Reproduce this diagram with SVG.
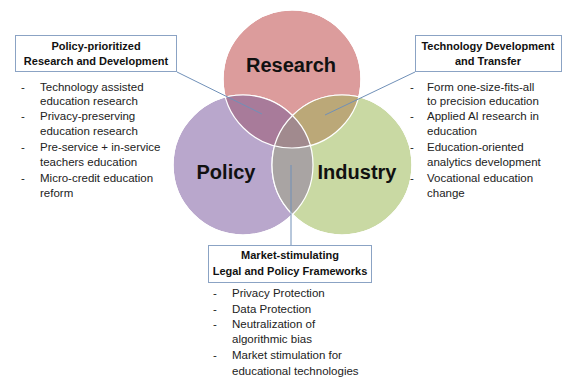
<svg xmlns="http://www.w3.org/2000/svg" width="564" height="379" viewBox="0 0 564 379">
  <style>
    .circle { stroke: #ffffff; stroke-width: 1.2; }
    .lbl { font-family: "Liberation Sans", Arial, sans-serif; font-weight: bold; font-size: 20px; fill: #111111; text-anchor: middle; }
    .box { fill: #ffffff; stroke: #8ba3c4; stroke-width: 1; }
    .title { font-family: "Liberation Sans", Arial, sans-serif; font-weight: bold; font-size: 11px; fill: #111111; text-anchor: middle; }
    .item { font-family: "Liberation Sans", Arial, sans-serif; font-size: 11.5px; fill: #222222; }
    .link { stroke: #7090b8; stroke-width: 1; fill: none; }
  </style>
  <defs>
    <clipPath id="clipR"><circle cx="292" cy="79" r="69"/></clipPath>
    <clipPath id="clipP"><circle cx="243" cy="165" r="70"/></clipPath>
    <clipPath id="clipI"><circle cx="342" cy="165" r="70"/></clipPath>
  </defs>
  <rect width="564" height="379" fill="#ffffff"/>

  <!-- Venn circles -->
  <g id="venn">
    <circle class="circle" cx="292" cy="79" r="69" fill="#dc9c9c"/>
    <circle class="circle" cx="243" cy="165" r="70" fill="#b9a7cc"/>
    <circle class="circle" cx="342" cy="165" r="70" fill="#c9d9a3"/>
    <!-- pairwise overlaps -->
    <g clip-path="url(#clipR)"><circle cx="243" cy="165" r="70" fill="#a87b9a"/></g>
    <g clip-path="url(#clipR)"><circle cx="342" cy="165" r="70" fill="#bba878"/></g>
    <g clip-path="url(#clipP)"><circle cx="342" cy="165" r="70" fill="#a9a4a3"/></g>
    <!-- triple overlap -->
    <g clip-path="url(#clipR)"><g clip-path="url(#clipP)"><circle cx="342" cy="165" r="70" fill="#a18a8e"/></g></g>
    <!-- white outlines on top -->
    <circle cx="292" cy="79" r="69" fill="none" class="circle"/>
    <circle cx="243" cy="165" r="70" fill="none" class="circle"/>
    <circle cx="342" cy="165" r="70" fill="none" class="circle"/>
  </g>

  <g id="research"><text class="lbl" x="291" y="72">Research</text></g>
  <g id="policy"><text class="lbl" x="226" y="179">Policy</text></g>
  <g id="industry"><text class="lbl" x="357" y="179">Industry</text></g>

  <!-- connectors -->
  <g id="connectors">
    <line class="link" x1="177" y1="72" x2="262" y2="114"/>
    <line class="link" x1="415" y1="72" x2="325" y2="115"/>
    <line class="link" x1="291" y1="245" x2="291" y2="165"/>
  </g>

  <!-- Policy-prioritized R&D -->
  <g id="box-left">
    <rect class="box" x="15.5" y="35.5" width="161" height="36"/>
    <text class="title" x="96" y="50">Policy-prioritized</text>
    <text class="title" x="96" y="65">Research and Development</text>
    <g class="item">
      <text x="21" y="91">-</text><text x="40" y="91">Technology assisted</text>
      <text x="40" y="105">education research</text>
      <text x="21" y="120">-</text><text x="40" y="120">Privacy-preserving</text>
      <text x="40" y="135">education research</text>
      <text x="21" y="151">-</text><text x="40" y="151">Pre-service + in-service</text>
      <text x="40" y="166">teachers education</text>
      <text x="21" y="182">-</text><text x="40" y="182">Micro-credit education</text>
      <text x="40" y="197">reform</text>
    </g>
  </g>

  <!-- Technology Development and Transfer -->
  <g id="box-right">
    <rect class="box" x="415.5" y="35.5" width="146" height="36"/>
    <text class="title" x="488" y="50">Technology  Development</text>
    <text class="title" x="488" y="65">and Transfer</text>
    <g class="item">
      <text x="410" y="91">-</text><text x="427" y="91">Form one-size-fits-all</text>
      <text x="427" y="105">to precision education</text>
      <text x="410" y="120">-</text><text x="427" y="120">Applied AI research in</text>
      <text x="427" y="135">education</text>
      <text x="410" y="151">-</text><text x="427" y="151">Education-oriented</text>
      <text x="427" y="166">analytics development</text>
      <text x="410" y="182">-</text><text x="427" y="182">Vocational education</text>
      <text x="427" y="197">change</text>
    </g>
  </g>

  <!-- Market-stimulating Legal and Policy Frameworks -->
  <g id="box-bottom">
    <rect class="box" x="208.5" y="245.5" width="163" height="37"/>
    <text class="title" x="290" y="259">Market-stimulating</text>
    <text class="title" x="290" y="275">Legal and Policy Frameworks</text>
    <g class="item">
      <text x="213" y="297">-</text><text x="232" y="297">Privacy Protection</text>
      <text x="213" y="313">-</text><text x="232" y="313">Data Protection</text>
      <text x="213" y="328">-</text><text x="232" y="328">Neutralization of</text>
      <text x="232" y="343">algorithmic bias</text>
      <text x="213" y="359">-</text><text x="232" y="359">Market stimulation for</text>
      <text x="232" y="375">educational technologies</text>
    </g>
  </g>
</svg>
